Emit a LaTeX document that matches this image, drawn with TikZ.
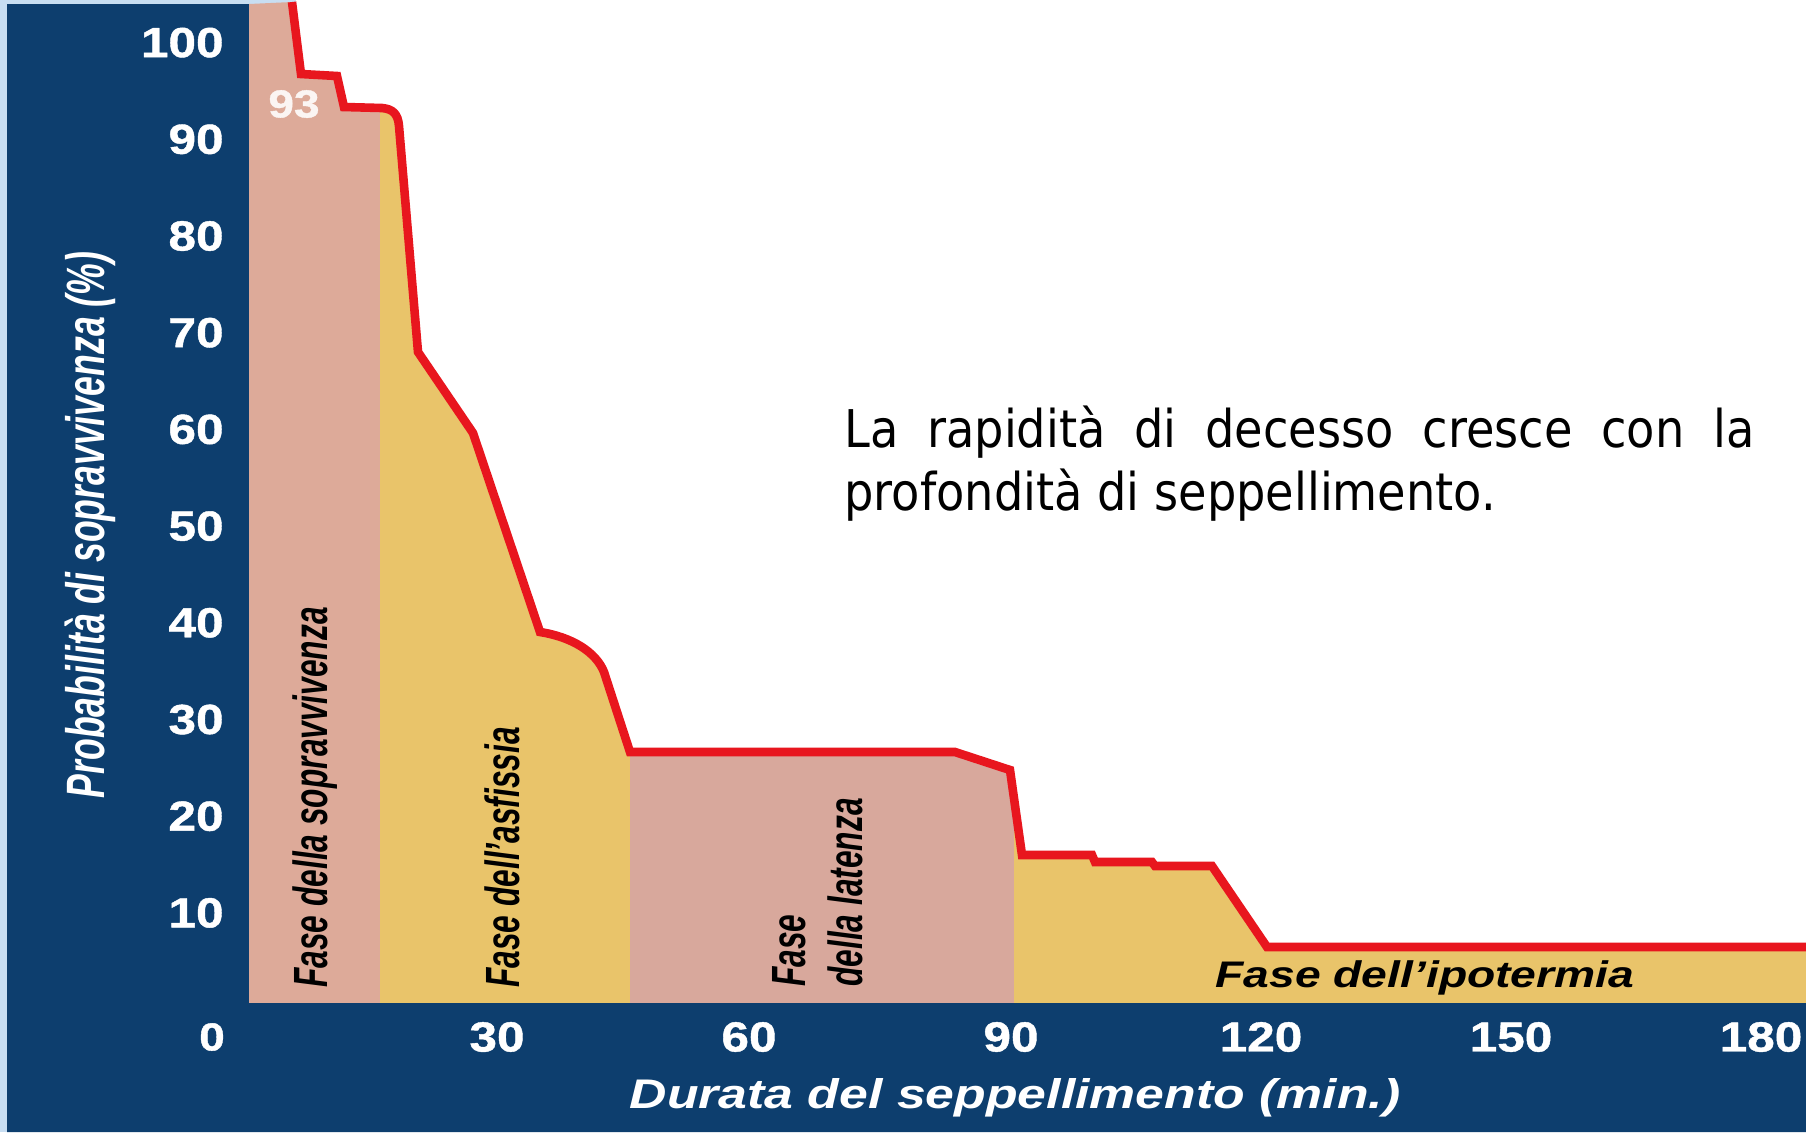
\documentclass[tikz,border=0pt]{standalone}
\usepackage{fontspec}
\setmainfont{Liberation Sans}
\newfontfamily\tickfont[FakeStretch=1.18,FakeBold=1]{Liberation Sans}
\newfontfamily\condfont[FakeStretch=0.66]{Liberation Sans}
\newfontfamily\extfont[FakeStretch=1.25]{Liberation Sans}
\newfontfamily\bodyfont[FakeStretch=0.89]{DejaVu Sans}
\definecolor{navy}{RGB}{13,62,110}
\definecolor{edgeblue}{RGB}{200,222,242}
\definecolor{pinka}{RGB}{221,170,153}
\definecolor{pinkb}{RGB}{216,168,156}
\definecolor{yellowa}{RGB}{233,196,106}
\definecolor{redline}{RGB}{232,22,30}
\begin{document}
\begin{tikzpicture}[x=0.5pt,y=-0.5pt,
 ticklab/.style={font=\tickfont\bfseries\fontsize{21}{24}\selectfont,text=white,inner sep=0pt},
 phaselab/.style={font=\condfont\bfseries\itshape\fontsize{24}{28}\selectfont,text=black,rotate=90,anchor=base west,inner sep=0pt},
 axtitle/.style={font=\extfont\bfseries\itshape\fontsize{20.7}{24}\selectfont,text=white,inner sep=0pt},
 hypolab/.style={font=\extfont\bfseries\itshape\fontsize{18.5}{22}\selectfont,text=black,inner sep=0pt,anchor=base west},
 ytitle/.style={font=\condfont\bfseries\itshape\fontsize{27}{30}\selectfont,text=white,rotate=90,inner sep=0pt},
 bodytext/.style={font=\bodyfont\fontsize{26}{32}\selectfont,text=black,inner sep=0pt,anchor=base west},
 curveline/.style={draw=redline,line width=4.3pt}
]
\useasboundingbox (0,0) rectangle (1806,1132);
\fill[white] (0,0) rectangle (1806,1132);
\fill[edgeblue] (0,0) rectangle (7,1132);
\fill[edgeblue] (0,0) rectangle (296,4);
\fill[navy] (7,4) -- (249,4) -- (249,1003) -- (1806,1003) -- (1806,1132) -- (7,1132) -- cycle;

% curve points
\coordinate (c0) at (292,2);
\coordinate (c1) at (301,74);
\coordinate (c2) at (337,76);
\coordinate (c3) at (344,107);
\coordinate (c4) at (382,108);
\coordinate (c5) at (399,126);
\coordinate (c6) at (418,352);
\coordinate (c7) at (473,433);
\coordinate (c8) at (540,632);
\coordinate (c9) at (604,672);
\coordinate (c10) at (630,752);
\coordinate (c11) at (955,752);
\coordinate (c12) at (1010,770);
\coordinate (c13) at (1022,855);
\coordinate (c14) at (1092,855);
\coordinate (c15) at (1095,862);
\coordinate (c16) at (1152,862);
\coordinate (c17) at (1155,866);
\coordinate (c18) at (1212,866);
\coordinate (c19) at (1267,947);
\coordinate (c20) at (1810,947);

\begin{scope}
\clip (249,1003) -- (249,4) -- (c0) -- (c1) -- (c2) -- (c3) -- (c4)
  .. controls (393,109) and (398,114) .. (c5) -- (c6) -- (c7) -- (c8)
  .. controls (572,637) and (596,652) .. (c9) -- (c10) -- (c11) -- (c12)
  -- (c13) -- (c14) -- (c15) -- (c16) -- (c17) -- (c18) -- (c19) -- (c20)
  -- (1810,1003) -- cycle;
\fill[pinka] (249,0) rectangle (380,1003);
\fill[yellowa] (380,0) rectangle (630,1003);
\fill[pinkb] (630,0) rectangle (1014,1003);
\fill[yellowa] (1014,0) rectangle (1810,1003);
\end{scope}

\draw[curveline] (c0) -- (c1) -- (c2) -- (c3) -- (c4)
  .. controls (393,109) and (398,114) .. (c5) -- (c6) -- (c7) -- (c8)
  .. controls (572,637) and (596,652) .. (c9) -- (c10) -- (c11) -- (c12)
  -- (c13) -- (c14) -- (c15) -- (c16) -- (c17) -- (c18) -- (c19) -- (c20);

% y ticks
\node[ticklab,anchor=east] (y100) at (224,42.6) {100};
\node[ticklab,anchor=east] (y90) at (224,139.3) {90};
\node[ticklab,anchor=east] (y80) at (224,236.0) {80};
\node[ticklab,anchor=east] (y70) at (224,332.7) {70};
\node[ticklab,anchor=east] (y60) at (224,429.4) {60};
\node[ticklab,anchor=east] (y50) at (224,526.1) {50};
\node[ticklab,anchor=east] (y40) at (224,622.8) {40};
\node[ticklab,anchor=east] (y30) at (224,719.5) {30};
\node[ticklab,anchor=east] (y20) at (224,816.2) {20};
\node[ticklab,anchor=east] (y10) at (224,912.9) {10};
% x ticks
\node[ticklab,font=\tickfont\bfseries\fontsize{19.5}{22}\selectfont] (x0) at (212,1037) {0};
\node[ticklab] (x30) at (497,1037) {30};
\node[ticklab] (x60) at (749,1037) {60};
\node[ticklab] (x90) at (1011,1037) {90};
\node[ticklab] (x120) at (1261,1037) {120};
\node[ticklab] (x150) at (1511,1037) {150};
\node[ticklab] (x180) at (1761,1037) {180};

\node[ticklab,text=white!88!pinka,font=\tickfont\bfseries\fontsize{19.5}{22}\selectfont] (lab93) at (294,104) {93};

% axis titles
\node[ytitle] (ytit) at (90,525) {Probabilità di sopravvivenza (\%)};
\node[axtitle,anchor=base] (xtit) at (1015,1108) {Durata del seppellimento (min.)};

% phase labels
\node[phaselab] (ph1) at (327,988) {Fase della sopravvivenza};
\node[phaselab] (ph2) at (519,988) {Fase dell’asfissia};
\node[phaselab] (ph3a) at (805,987) {Fase};
\node[phaselab] (ph3b) at (862,987) {della latenza};
\node[hypolab] (ph4) at (1215,987) {Fase dell’ipotermia};

% body text
\node[bodytext] (txt1) at (844,447) {\makebox[455pt][s]{La rapidità di decesso cresce con la}};
\node[bodytext] (txt2) at (844,510) {profondità di seppellimento.};
\end{tikzpicture}
\end{document}
